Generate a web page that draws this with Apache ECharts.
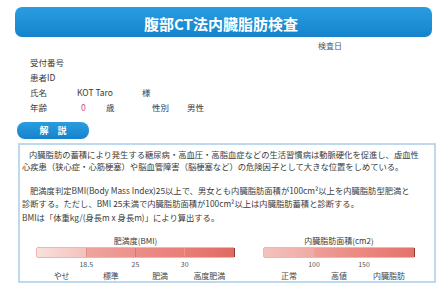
<!DOCTYPE html>
<html><head><meta charset="utf-8">
<script src="https://cdn.jsdelivr.net/npm/echarts@6/dist/echarts.min.js"></script>
<style>html,body{margin:0;padding:0;background:#fff}#c{width:442px;height:284px}</style>
</head><body><div id="c"></div>
<script>
// ---- data ----
const titleText = '腹部CT法内臓脂肪検査';
const fieldLabels = ['受付番号', '患者ID', '氏名', '年齢'];
const patientName = 'KOT Taro';
const patientAge = '0';
const patientSex = '男性';
const para1 = [
  '内臓脂肪の蓄積により発生する糖尿病・高血圧・高脂血症などの生活習慣病は動脈硬化を促進し、虚血性',
  '心疾患（狭心症・心筋梗塞）や脳血管障害（脳梗塞など）の危険因子として大きな位置をしめている。'
];
const para2 = [
  '肥満度判定BMI(Body Mass Index)25以上で、男女とも内臓脂肪面積が100cm²以上を内臓脂肪型肥満と',
  '診断する。ただし、BMI 25未満で内臓脂肪面積が100cm²以上は内臓脂肪蓄積と診断する。',
  'BMIは「体重kg/(身長m x 身長m)」により算出する。'
];
const bmiTitle = '肥満度(BMI)';
const bmiCategories = ['やせ', '標準', '肥満', '高度肥満'];
const bmiBounds = ['18.5', '25', '30'];
const bmiSegments = [1, 1, 1, 1];
const fatTitle = '内臓脂肪面積(cm2)';
const fatCategories = ['正常', '高値', '内臓脂肪'];
const fatBounds = ['100', '150'];
const fatSegments = [1, 1, 1];

// ---- styles ----
const bmiColors = [['#f9e0dc', '#f3c2bd'], ['#f0a49e', '#ec918b'], ['#ec8e88', '#e97e77'], ['#e97e77', '#e06a63']];
const fatColors = [['#f4c2bd', '#f0aaa4'], ['#ee9e98', '#ea8780'], ['#ea8780', '#e4726b']];
const font = '"Noto Sans CJK JP", "Noto Sans", sans-serif';

function grad(c) {
  return new echarts.graphic.LinearGradient(0, 0, 1, 0, [{offset: 0, color: c[0]}, {offset: 1, color: c[1]}]);
}
function segSeries(cats, vals, colors, stack, idx) {
  return cats.map((name, i) => ({
    type: 'bar', name: name, stack: stack, xAxisIndex: idx, yAxisIndex: idx,
    data: [vals[i]], barWidth: 9, silent: true,
    itemStyle: {color: grad(colors[i])},
    label: {show: true, position: 'bottom', distance: 14, formatter: name,
      fontSize: 8, color: '#444', fontFamily: font}
  }));
}
function xAx(idx, n, bounds) {
  return {
    type: 'value', gridIndex: idx, min: 0, max: n, interval: 1,
    axisLine: {show: false}, axisTick: {show: false},
    splitLine: {show: true, lineStyle: {color: '#8a3b38', width: 1}},
    axisLabel: {fontSize: 7, margin: 3, color: '#555', fontFamily: font,
      formatter: v => bounds[v - 1] || ''}
  };
}

const txt = (x, y, s, o) => Object.assign({type: 'text', x: x, y: y,
  style: Object.assign({text: s, fontSize: 8.3, fill: '#3a3a3a', fontFamily: font, textVerticalAlign: 'middle'}, o || {})});

const graphics = [
  {type: 'rect', shape: {x: 15, y: 7, width: 417, height: 30, r: 7},
    style: {fill: new echarts.graphic.LinearGradient(0, 0, 0, 1, [{offset: 0, color: '#2a9de0'}, {offset: 1, color: '#1583cc'}])}},
  txt(221, 23, titleText, {fontSize: 15, fill: '#fff', fontWeight: 'bold', textAlign: 'center'}),
  txt(318, 45, '検査日', {fontSize: 8, fill: '#555'}),
  txt(30, 62, fieldLabels[0], {fontSize: 8.5}),
  txt(30, 77, fieldLabels[1], {fontSize: 8.5}),
  txt(30, 92, fieldLabels[2], {fontSize: 8.5}),
  txt(77, 92, patientName, {fontSize: 8.5}),
  txt(142, 92, '様', {fontSize: 8.5}),
  txt(30, 107, fieldLabels[3], {fontSize: 8.5}),
  txt(81, 107, patientAge, {fontSize: 8.5, fill: '#d0508a'}),
  txt(106, 107, '歳', {fontSize: 8.5}),
  txt(152, 107, '性別', {fontSize: 8.5}),
  txt(187, 107, patientSex, {fontSize: 8.5}),
  {type: 'rect', shape: {x: 17, y: 122, width: 72, height: 17, r: 8},
    style: {fill: new echarts.graphic.LinearGradient(0, 0, 0, 1, [{offset: 0, color: '#2a9de0'}, {offset: 1, color: '#1583cc'}])}},
  txt(53, 130.5, '解　説', {fontSize: 9, fill: '#fff', fontWeight: 'bold', textAlign: 'center'}),
  {type: 'rect', shape: {x: 19, y: 144, width: 416, height: 138},
    style: {fill: 'none', stroke: '#a9cde8', lineWidth: 1.5}},
  txt(29, 154, para1[0]),
  txt(22, 166, para1[1]),
  txt(30, 190, para2[0]),
  txt(22, 203, para2[1]),
  txt(22, 217, para2[2]),
  txt(135.5, 240, bmiTitle, {fontSize: 8, textAlign: 'center'}),
  txt(339, 240, fatTitle, {fontSize: 8, textAlign: 'center'})
];

const chart = echarts.init(document.getElementById('c'), null, {renderer: 'svg'});
chart.setOption({
  animation: false,
  backgroundColor: '#fff',
  grid: [
    {left: 37, top: 248, width: 197, height: 9, show: true, borderColor: '#e06a63', borderWidth: 1},
    {left: 264, top: 248, width: 150, height: 9, show: true, borderColor: '#e06a63', borderWidth: 1}
  ],
  xAxis: [xAx(0, bmiSegments.length, bmiBounds), xAx(1, fatSegments.length, fatBounds)],
  yAxis: [
    {type: 'category', gridIndex: 0, data: [''], show: false},
    {type: 'category', gridIndex: 1, data: [''], show: false}
  ],
  series: segSeries(bmiCategories, bmiSegments, bmiColors, 'bmi', 0)
    .concat(segSeries(fatCategories, fatSegments, fatColors, 'fat', 1)),
  graphic: graphics
});
</script></body></html>
